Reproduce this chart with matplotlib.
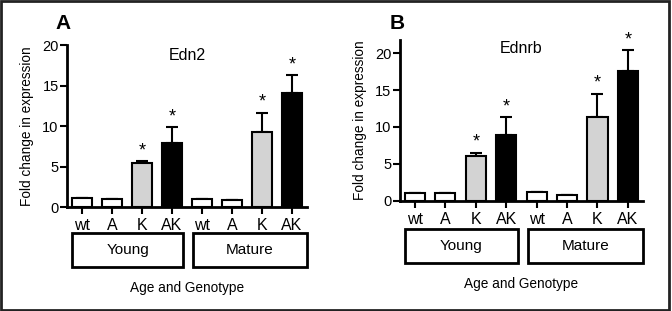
import matplotlib.pyplot as plt
from matplotlib.patches import Rectangle
import matplotlib.transforms as mtransforms

plt.rcParams['font.family'] = ['Liberation Sans', 'DejaVu Sans']

genotypes = ['wt', 'A', 'K', 'AK', 'wt', 'A', 'K', 'AK']
groups = ['Young', 'Mature']
colors = ['white', 'white', '#d3d3d3', 'black', 'white', 'white', '#d3d3d3', 'black']

edn2_mean = [1.1, 1.0, 5.4, 7.95, 1.05, 0.85, 9.25, 14.05]
edn2_err = [0.0, 0.0, 0.3, 1.9, 0.0, 0.0, 2.4, 2.25]
edn2_sig = [False, False, True, True, False, False, True, True]

ednrb_mean = [1.0, 1.0, 6.0, 8.9, 1.1, 0.72, 11.3, 17.6]
ednrb_err = [0.0, 0.0, 0.5, 2.4, 0.0, 0.0, 3.2, 2.85]
ednrb_sig = [False, False, True, True, False, False, True, True]

fig = plt.figure(figsize=(6.72, 3.11), dpi=100)

# outer frame
fig.patches.append(Rectangle((0.002, 0.004), 0.994, 0.992, transform=fig.transFigure,
                             fill=False, lw=2, edgecolor='#222222'))


def draw_panel(rect, means, errs, sig, ymax, title, letter, title_y, box_y, letter_pos):
    ax = fig.add_axes(rect)
    x = range(len(means))
    ax.bar(x, means, width=0.66, color=colors, edgecolor='black', linewidth=1.5, zorder=2)
    ax.errorbar(x, means, yerr=[[0] * len(errs), errs], fmt='none', ecolor='black',
                elinewidth=1.5, capsize=4, capthick=1.5, zorder=1)
    for i, (m, e, s) in enumerate(zip(means, errs, sig)):
        if s:
            ax.text(i, m + e + ymax * 0.012, '*', ha='center', va='bottom', fontsize=13)
    ax.set_xlim(-0.5, 7.5)
    ax.set_ylim(0, ymax)
    ax.set_yticks([0, 5, 10, 15, 20])
    ax.set_xticks(list(x))
    ax.set_xticklabels(genotypes, fontsize=11.5)
    ax.tick_params(axis='y', labelsize=10.5, width=1.5, length=5, pad=1)
    ax.tick_params(axis='x', width=1.5, length=5, pad=3)
    for side in ['top', 'right']:
        ax.spines[side].set_visible(False)
    for side in ['left', 'bottom']:
        ax.spines[side].set_linewidth(2)
    ax.set_ylabel('Fold change in expression', fontsize=9.8, labelpad=6)
    ax.text(0.5, title_y, title, transform=ax.transAxes, ha='center', fontsize=11.5)

    trans = mtransforms.blended_transform_factory(ax.transData, ax.transAxes)
    spans = [(-0.33, 3.37), (3.7, 7.5)]
    for name, (x0, x1) in zip(groups, spans):
        ax.add_patch(Rectangle((x0, box_y[0]), x1 - x0, box_y[1] - box_y[0], transform=trans,
                               fill=False, lw=2, edgecolor='black', clip_on=False))
        ax.text((x0 + x1) / 2, (box_y[0] + box_y[1]) / 2, name, transform=trans,
                ha='center', va='center', fontsize=11)
    ax.text(3.5, box_y[0] - 0.13, 'Age and Genotype', transform=trans,
            ha='center', va='center', fontsize=9.8)
    fig.text(letter_pos[0], letter_pos[1], letter, fontsize=15, fontweight='bold',
             ha='center', va='center')
    return ax


draw_panel([0.0997, 0.334, 0.357, 0.521], edn2_mean, edn2_err, edn2_sig, 20,
           'Edn2', 'A', 0.91, (-0.37, -0.16), (0.094, 0.926))
draw_panel([0.595, 0.355, 0.362, 0.516], ednrb_mean, ednrb_err, ednrb_sig, 21.8,
           'Ednrb', 'B', 0.92, (-0.39, -0.18), (0.591, 0.926))

fig.savefig('out.png', dpi=100)
